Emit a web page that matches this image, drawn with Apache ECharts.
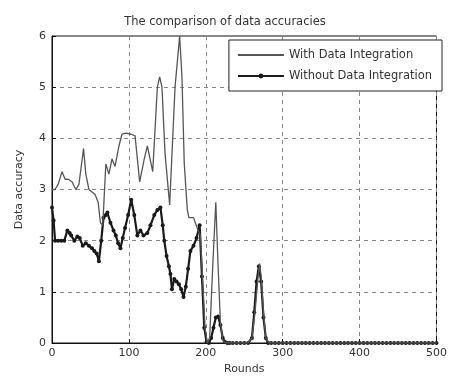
<!DOCTYPE html>
<html>
<head>
<meta charset="utf-8">
<script src="https://cdn.jsdelivr.net/npm/echarts@6/dist/echarts.min.js"></script>
<style>html,body{margin:0;padding:0;background:#fff}#c{width:450px;height:380px}</style>
</head>
<body>
<div id="c"></div>
<script>
var title = 'The comparison of data accuracies';
var seriesNames = ['With Data Integration', 'Without Data Integration'];
var xTicks = [0, 100, 200, 300, 400, 500];
var yTicks = [0, 1, 2, 3, 4, 5, 6];

var roundsWith = [0, 4, 8, 13, 17, 21, 26, 31, 35, 38, 41, 44, 48, 52, 56, 60, 63, 66, 70, 74, 78, 82, 87, 91, 96, 103, 108, 114, 120, 124, 131, 137, 140, 143, 147, 153, 160, 166, 169, 172, 176, 178, 184, 190, 193, 196, 199, 202, 205, 209, 213, 216, 219, 222, 226, 240, 255, 260, 264, 268, 270, 272, 275, 278, 282, 300, 350, 400, 450, 500];
var valuesWith = [3.0, 3.0, 3.1, 3.35, 3.2, 3.2, 3.15, 3.0, 3.1, 3.45, 3.8, 3.3, 3.0, 2.95, 2.9, 2.75, 2.35, 2.3, 3.5, 3.3, 3.6, 3.45, 3.85, 4.08, 4.1, 4.08, 4.05, 3.15, 3.6, 3.85, 3.35, 5.0, 5.2, 5.0, 3.7, 2.7, 5.0, 6.0, 5.2, 3.5, 2.6, 2.45, 2.45, 2.2, 2.1, 1.2, 0.3, 0.0, 0.1, 1.5, 2.75, 1.5, 0.4, 0.05, 0.0, 0.0, 0.0, 0.1, 0.6, 1.3, 1.55, 1.3, 0.6, 0.1, 0.0, 0.0, 0.0, 0.0, 0.0, 0.0];

var roundsWithout = [0, 2, 4, 8, 12, 16, 20, 23, 25, 29, 33, 36, 40, 44, 48, 52, 55, 58, 61, 64, 67, 70, 72, 76, 80, 83, 86, 89, 92, 95, 99, 103, 107, 111, 115, 119, 124, 128, 133, 137, 141, 144, 146, 149, 152, 154, 156, 159, 162, 165, 168, 171, 174, 177, 180, 184, 188, 192, 195, 198, 201, 204, 207, 210, 213, 216, 219, 222, 225, 228, 231, 235, 240, 245, 250, 255, 260, 263, 266, 269, 272, 275, 278, 281, 285, 290, 295, 300, 305, 310, 315, 320, 325, 330, 335, 340, 345, 350, 355, 360, 365, 370, 375, 380, 385, 390, 395, 400, 405, 410, 415, 420, 425, 430, 435, 440, 445, 450, 455, 460, 465, 470, 475, 480, 485, 490, 495, 500];
var valuesWithout = [2.65, 2.4, 2.0, 2.0, 2.0, 2.0, 2.2, 2.15, 2.1, 2.0, 2.08, 2.05, 1.9, 1.95, 1.9, 1.85, 1.8, 1.75, 1.6, 2.0, 2.45, 2.5, 2.55, 2.35, 2.2, 2.1, 1.95, 1.85, 2.05, 2.25, 2.5, 2.8, 2.5, 2.1, 2.2, 2.1, 2.15, 2.3, 2.5, 2.6, 2.65, 2.3, 2.0, 1.7, 1.5, 1.35, 1.05, 1.25, 1.2, 1.15, 1.05, 0.9, 1.1, 1.45, 1.8, 1.9, 2.05, 2.3, 1.3, 0.3, 0.02, 0.0, 0.1, 0.3, 0.5, 0.52, 0.35, 0.1, 0.02, 0.0, 0.0, 0.0, 0.0, 0.0, 0.0, 0.0, 0.1, 0.6, 1.2, 1.5, 1.2, 0.5, 0.1, 0.0, 0.0, 0.0, 0.0, 0.0, 0.0, 0.0, 0.0, 0.0, 0.0, 0.0, 0.0, 0.0, 0.0, 0.0, 0.0, 0.0, 0.0, 0.0, 0.0, 0.0, 0.0, 0.0, 0.0, 0.0, 0.0, 0.0, 0.0, 0.0, 0.0, 0.0, 0.0, 0.0, 0.0, 0.0, 0.0, 0.0, 0.0, 0.0, 0.0, 0.0, 0.0, 0.0, 0.0, 0.0, 0.0, 0.0];

function pairs(xs, ys) { return xs.map(function (x, i) { return [x, ys[i]]; }); }

var chart = echarts.init(document.getElementById('c'));
var txt = '#333';
var ff = 'DejaVu Sans';
chart.setOption({
  animation: false,
  backgroundColor: '#fff',
  title: {
    text: title, left: 'center', top: 11,
    textStyle: { fontFamily: ff, fontSize: 11.5, fontWeight: 'normal', color: txt }
  },
  legend: {
    data: [{ name: seriesNames[0], itemStyle: { opacity: 0 } }, { name: seriesNames[1] }],
    orient: 'vertical', right: 8, top: 40,
    backgroundColor: '#fff', borderColor: '#222', borderWidth: 1, borderRadius: 0,
    padding: [9, 10, 9, 8], itemGap: 9, itemWidth: 46, itemHeight: 6,
    textStyle: { fontFamily: ff, fontSize: 11.5, color: txt }
  },
  grid: { left: 52, right: 4, top: 36, bottom: 34, show: true, borderColor: '#111', borderWidth: 1, backgroundColor: 'transparent' },
  xAxis: {
    type: 'value', min: xTicks[0], max: xTicks[xTicks.length - 1], interval: 100,
    name: 'Rounds', nameLocation: 'middle', nameGap: 21,
    nameTextStyle: { fontFamily: ff, fontSize: 11, color: txt },
    axisLine: { lineStyle: { color: '#111' } },
    axisTick: { inside: true, length: 4, lineStyle: { color: '#111' } },
    axisLabel: { fontFamily: ff, fontSize: 11, color: txt, margin: 5 },
    splitLine: { show: true, lineStyle: { color: '#888', type: [4, 4], width: 1 } }
  },
  yAxis: {
    type: 'value', min: yTicks[0], max: yTicks[yTicks.length - 1], interval: 1,
    name: 'Data accuracy', nameLocation: 'middle', nameGap: 27,
    nameTextStyle: { fontFamily: ff, fontSize: 11, color: txt },
    axisLine: { show: true, lineStyle: { color: '#111' } },
    axisTick: { show: true, inside: true, length: 4, lineStyle: { color: '#111' } },
    axisLabel: { fontFamily: ff, fontSize: 11, color: txt, margin: 6 },
    splitLine: { show: true, lineStyle: { color: '#888', type: [4, 4], width: 1 } }
  },
  series: [
    {
      name: seriesNames[0], type: 'line', data: pairs(roundsWith, valuesWith),
      symbol: 'none', lineStyle: { color: '#555', width: 1.3 }, itemStyle: { color: '#555' }, z: 3
    },
    {
      name: seriesNames[1], type: 'line', data: pairs(roundsWithout, valuesWithout),
      symbol: 'circle', symbolSize: 4, showAllSymbol: true,
      lineStyle: { color: '#1a1a1a', width: 2.2 }, itemStyle: { color: '#1a1a1a' }, z: 2
    }
  ]
});
</script>
</body>
</html>
